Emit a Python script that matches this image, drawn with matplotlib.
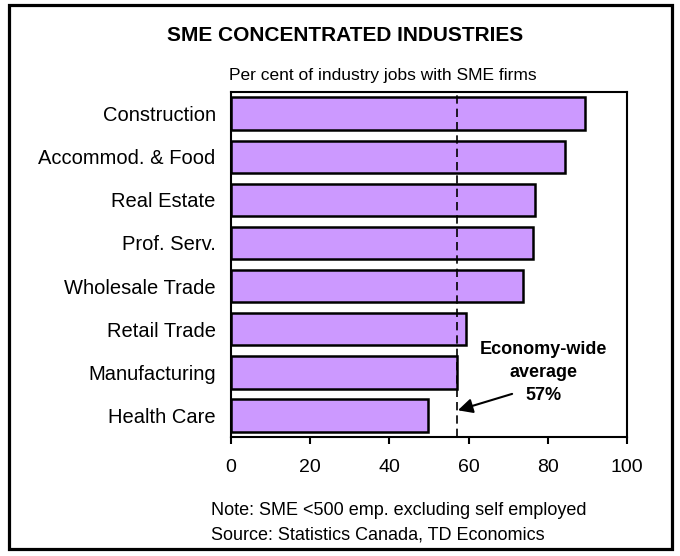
import matplotlib.pyplot as plt
from matplotlib.patches import Rectangle

plt.rcParams['font.family'] = ['Liberation Sans', 'DejaVu Sans']

industries = ['Construction', 'Accommod. & Food', 'Real Estate', 'Prof. Serv.',
              'Wholesale Trade', 'Retail Trade', 'Manufacturing', 'Health Care']
sme_share = [89.4, 84.3, 76.8, 76.3, 73.7, 59.3, 57.1, 49.7]
economy_avg = 57
x_ticks = [0, 20, 40, 60, 80, 100]

fig = plt.figure(figsize=(6.8, 5.56), dpi=100)
ax = fig.add_axes([0.3397, 0.214, 0.5823, 0.6205])

# frame around the whole figure
fig.patches.append(Rectangle((0.0132, 0.0126), 0.975, 0.978, transform=fig.transFigure,
                             fill=False, edgecolor='black', linewidth=2.3))

ypos = list(range(len(industries)))[::-1]
ax.barh(ypos, sme_share, height=0.75, color='#CC99FF', edgecolor='black', linewidth=1.8)
ax.axvline(economy_avg, color='black', linestyle=(0, (5, 3)), linewidth=1.2)

ax.set_xlim(0, 100)
ax.set_ylim(-0.5, len(industries) - 0.5)
ax.set_xticks(x_ticks)
ax.set_xticklabels([str(t) for t in x_ticks], fontsize=14)
ax.set_yticks(ypos)
ax.set_yticklabels(industries, fontsize=14.5)
ax.tick_params(axis='y', length=0, pad=11)
ax.tick_params(axis='x', direction='out', length=5, width=1.5, pad=11)
for s in ax.spines.values():
    s.set_linewidth(1.5)

# average label with arrow pointing at the dashed line
ax.text(78.8, 1.0, 'Economy-wide\naverage\n57%', ha='center', va='center',
        fontsize=13, fontweight='bold', linespacing=1.45)
ax.annotate('', xy=(economy_avg + 0.3, 0.12), xytext=(71, 0.5),
            arrowprops=dict(arrowstyle='-|>', color='black', lw=1.5, mutation_scale=22,
                            shrinkA=0, shrinkB=0))

fig.text(0.508, 0.936, 'SME CONCENTRATED INDUSTRIES', ha='center', va='center',
         fontsize=15, fontweight='bold')
fig.text(0.337, 0.865, 'Per cent of industry jobs with SME firms', ha='left', va='center',
         fontsize=12.5)
fig.text(0.31, 0.081, 'Note: SME <500 emp. excluding self employed', ha='left', va='center',
         fontsize=13)
fig.text(0.31, 0.038, 'Source: Statistics Canada, TD Economics', ha='left', va='center',
         fontsize=13)

fig.savefig('out.png', dpi=100)
